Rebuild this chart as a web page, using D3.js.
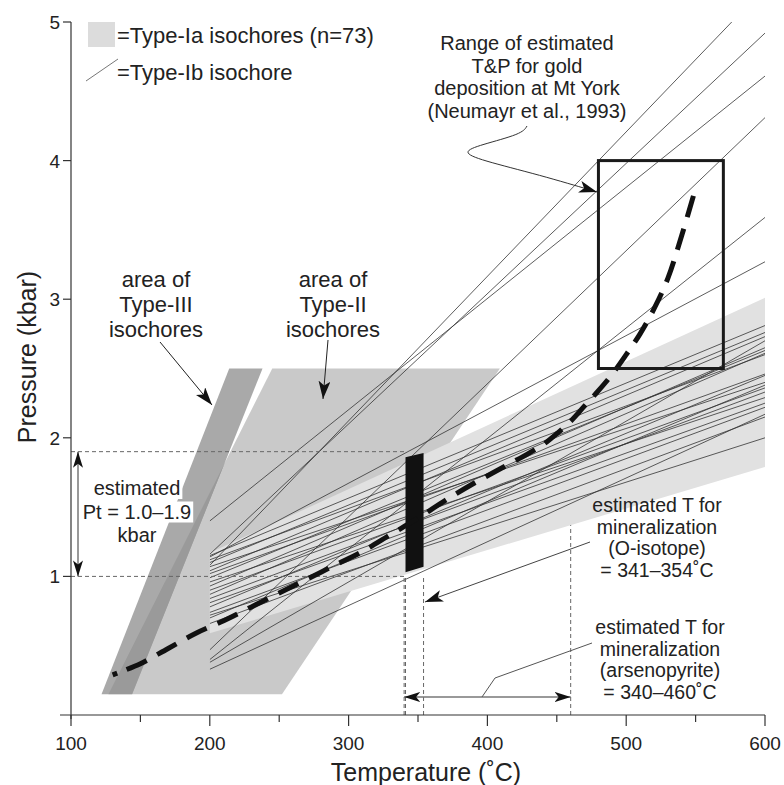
<!DOCTYPE html>
<html><head><meta charset="utf-8">
<script src="https://cdn.jsdelivr.net/npm/d3@7"></script>
<style>
body{margin:0;background:#fff}
svg{display:block;font-family:"Liberation Sans",Arial,sans-serif}
</style></head><body>
<svg id="chart" width="784" height="785"></svg>
<script>
// axis ticks
const xTicks = [100, 200, 300, 400, 500, 600];
const xMinorTicks = [150, 250, 350, 450, 550];
const yTicks = [1, 2, 3, 4, 5];

// Type-Ib isochores: pressure (kbar) at 200 °C and at 600 °C
const isoP200 = [1.08, 1.16, 1.40, 0.47, 0.40, 1.14,
  1.15, 1.12, 1.10, 1.07, 1.04, 1.02, 0.99, 0.96, 0.93, 0.90,
  0.87, 0.84, 0.81, 0.78, 0.74, 0.70, 0.66, 0.38, 0.33, 0.72];
const isoP600 = [5.25, 4.92, 4.61, 4.31, 3.59, 3.27,
  2.81, 2.60, 2.76, 2.40, 2.73, 2.46, 2.63, 2.29, 2.65, 2.36,
  2.61, 2.33, 2.25, 2.45, 2.22, 2.38, 2.15, 2.70, 2.17, 2.00];

// Type-Ia isochore band outline
const bandT = [200, 600, 600, 200];
const bandP = [0.59, 1.79, 3.01, 1.17];

// Type-II and Type-III isochore areas
const type2T = [127, 252, 409, 245];
const type2P = [0.15, 0.15, 2.5, 2.5];
const type3T = [122, 144, 238, 214];
const type3P = [0.15, 0.15, 2.5, 2.5];

// P–T path (thick dashed curve)
const pathT = [130, 150, 170, 190, 210, 230, 250, 270, 290, 310, 330, 350, 370, 390, 410, 430, 440, 450, 460, 470, 480, 490, 500, 510, 520, 530, 540, 550];
const pathP = [0.29, 0.37, 0.48, 0.59, 0.68, 0.78, 0.88, 0.98, 1.08, 1.18, 1.30, 1.42, 1.55, 1.67, 1.78, 1.89, 1.95, 2.03, 2.12, 2.23, 2.34, 2.46, 2.60, 2.75, 2.93, 3.15, 3.46, 3.80];

// gold deposition window (Neumayr et al., 1993)
const goldT = [480, 570];
const goldP = [2.5, 4.0];

// mineralization estimates
const oIsotopeT = [341, 354];
const oIsotopeBottom = [1.03, 1.07];
const oIsotopeTop = [1.86, 1.89];
const arsenopyriteT = [340, 460];
const ptRange = [1.0, 1.9];

const svg = d3.select("#chart");
const x = d3.scaleLinear().domain([100, 600]).range([71, 765]);
const y = d3.scaleLinear().domain([0, 5]).range([715, 22]);

const defs = svg.append("defs");
defs.append("clipPath").attr("id", "plotClip")
  .append("rect").attr("x", x(200)).attr("y", y(5))
  .attr("width", x(600) - x(200)).attr("height", y(0) - y(5));
const poly = (ts, ps) => ts.map((t, i) => [x(t), y(ps[i])]).join(" ");
defs.append("clipPath").attr("id", "type2Clip")
  .append("polygon").attr("points", poly(type2T, type2P));

function marker(id, len, half) {
  defs.append("marker").attr("id", id)
    .attr("viewBox", `0 ${-half} ${len} ${2 * half}`)
    .attr("refX", len).attr("refY", 0)
    .attr("markerWidth", len).attr("markerHeight", 2 * half)
    .attr("markerUnits", "userSpaceOnUse").attr("orient", "auto-start-reverse")
    .append("path").attr("d", `M0,${-half}L${len},0L0,${half}L${len * 0.25},0Z`).attr("fill", "#111");
}
marker("arrow", 18, 6);
marker("arrowS", 16, 5);

// isochore areas
svg.append("polygon").attr("points", poly(type2T, type2P)).attr("fill", "#c9c9c9");
svg.append("polygon").attr("points", poly(type3T, type3P)).attr("fill", "#a9a9a9");
svg.append("polygon").attr("points", poly(type3T, type3P)).attr("fill", "#9a9a9a")
  .attr("clip-path", "url(#type2Clip)");
svg.append("polygon").attr("points", poly(bandT, bandP)).attr("fill", "#e1e1e1");

// Type-Ib isochores
svg.append("g").attr("clip-path", "url(#plotClip)")
  .selectAll("line").data(isoP200).join("line")
  .attr("x1", x(200)).attr("y1", d => y(d))
  .attr("x2", x(600)).attr("y2", (d, i) => y(isoP600[i]))
  .attr("stroke", "#333").attr("stroke-width", 0.8);

// guide lines for the pressure and temperature estimates
const guide = svg.append("g").attr("stroke", "#666").attr("stroke-width", 1)
  .attr("stroke-dasharray", "4,3").attr("fill", "none");
ptRange.forEach(p => guide.append("line")
  .attr("x1", x(100)).attr("x2", x(oIsotopeT[0])).attr("y1", y(p)).attr("y2", y(p)));
[arsenopyriteT[0], oIsotopeT[0], oIsotopeT[1]].forEach(t => guide.append("line")
  .attr("x1", x(t)).attr("x2", x(t)).attr("y1", y(0)).attr("y2", y(ptRange[0])));
const bandBottomAt = t => bandP[0] + (bandP[1] - bandP[0]) * (t - bandT[0]) / (bandT[1] - bandT[0]);
guide.append("line").attr("x1", x(arsenopyriteT[1])).attr("x2", x(arsenopyriteT[1]))
  .attr("y1", y(0)).attr("y2", y(bandBottomAt(arsenopyriteT[1])));

// O-isotope temperature bar
svg.append("polygon").attr("fill", "#111").attr("points", [
  [x(oIsotopeT[0]), y(oIsotopeBottom[0])], [x(oIsotopeT[1]), y(oIsotopeBottom[1])],
  [x(oIsotopeT[1]), y(oIsotopeTop[1])], [x(oIsotopeT[0]), y(oIsotopeTop[0])]].join(" "));

// P–T path
const dash = ["5,10"].concat(d3.range(40).map(() => "22,12")).join(",");
svg.append("path")
  .attr("d", d3.line().x(d => x(d)).y((d, i) => y(pathP[i])).curve(d3.curveCatmullRom)(pathT))
  .attr("fill", "none").attr("stroke", "#111").attr("stroke-width", 5)
  .attr("stroke-dasharray", dash);

// gold deposition window
svg.append("rect").attr("x", x(goldT[0])).attr("y", y(goldP[1]))
  .attr("width", x(goldT[1]) - x(goldT[0])).attr("height", y(goldP[0]) - y(goldP[1]))
  .attr("fill", "none").attr("stroke", "#1a1a1a").attr("stroke-width", 3);

// axes
const axes = svg.append("g").attr("stroke", "#333").attr("stroke-width", 1.2);
axes.append("line").attr("x1", 60).attr("x2", x(600)).attr("y1", y(0)).attr("y2", y(0));
axes.append("line").attr("x1", x(100)).attr("x2", x(100)).attr("y1", y(5)).attr("y2", y(0) + 4);
xTicks.forEach(t => axes.append("line").attr("x1", x(t)).attr("x2", x(t)).attr("y1", y(0)).attr("y2", y(0) + 11));
xMinorTicks.forEach(t => axes.append("line").attr("x1", x(t)).attr("x2", x(t)).attr("y1", y(0)).attr("y2", y(0) + 7));
yTicks.forEach(p => axes.append("line").attr("x1", x(100) - 8).attr("x2", x(100)).attr("y1", y(p)).attr("y2", y(p)));

const txt = (g, s, px, py, size, anchor) => g.append("text").attr("x", px).attr("y", py)
  .attr("font-size", size).attr("text-anchor", anchor || "middle").attr("fill", "#222").text(s);
const labels = svg.append("g");
xTicks.forEach(t => txt(labels, t, x(t), y(0) + 35, 19));
yTicks.forEach(p => txt(labels, p, x(100) - 11, y(p) + 7, 19, "end"));
txt(labels, "Temperature (˚C)", 426, 781, 25);
labels.append("text").attr("transform", "translate(36,357) rotate(-90)")
  .attr("font-size", 25).attr("text-anchor", "middle").attr("fill", "#222").text("Pressure (kbar)");

// legend
svg.append("rect").attr("x", 88).attr("y", 22).attr("width", 27).attr("height", 25).attr("fill", "#dcdcdc");
txt(labels, "=Type-Ia isochores (n=73)", 117, 43, 22, "start");
svg.append("line").attr("x1", 86).attr("y1", 81).attr("x2", 118).attr("y2", 59).attr("stroke", "#777").attr("stroke-width", 1);
txt(labels, "=Type-Ib isochore", 117, 80, 22, "start");

// multi-line annotations
function block(lines, cx, baseY, step, size, halo) {
  const g = svg.append("g");
  lines.forEach((s, i) => {
    const t = txt(g, s, cx, baseY + i * step, size);
    if (halo) {
      const b = t.node().getBBox();
      g.insert("rect", "text").attr("x", b.x - 2).attr("y", b.y + 1)
        .attr("width", b.width + 4).attr("height", b.height - 1).attr("fill", "#fff");
    }
  });
}
block(["area of", "Type-III", "isochores"], 156, 287, 25, 22);
block(["area of", "Type-II", "isochores"], 333, 287, 25, 22);
block(["Range of estimated", "T&P for gold", "deposition at Mt York", "(Neumayr et al., 1993)"], 527, 50, 22.5, 20);
block(["estimated", "Pt = 1.0–1.9", "kbar"], 137, 495, 23.5, 20, true);
block(["estimated T for", "mineralization", "(O-isotope)", "= 341–354˚C"], 657, 512, 21.7, 19.5);
block(["estimated T for", "mineralization", "(arsenopyrite)", "= 340–460˚C"], 660, 634, 21.7, 19.5);

// arrows and leaders
const arrows = svg.append("g").attr("fill", "none");
arrows.append("line").attr("x1", 160).attr("y1", 342).attr("x2", 212).attr("y2", 405)
  .attr("stroke", "#222").attr("stroke-width", 1).attr("marker-end", "url(#arrow)");
arrows.append("line").attr("x1", 328).attr("y1", 340).attr("x2", 323).attr("y2", 399)
  .attr("stroke", "#222").attr("stroke-width", 1).attr("marker-end", "url(#arrow)");
arrows.append("path")
  .attr("d", d3.line().curve(d3.curveBasis)([[527, 126], [522, 134], [480, 145], [462, 152], [480, 160], [540, 175], [597, 192]]))
  .attr("stroke", "#333").attr("stroke-width", 1).attr("marker-end", "url(#arrow)");
arrows.append("line").attr("x1", 590).attr("y1", 542).attr("x2", 425).attr("y2", 602)
  .attr("stroke", "#444").attr("stroke-width", 1).attr("marker-end", "url(#arrow)");
const arrowY = y(0.13);
arrows.append("line").attr("x1", x(arsenopyriteT[0])).attr("x2", x(arsenopyriteT[1]))
  .attr("y1", arrowY).attr("y2", arrowY).attr("stroke", "#777").attr("stroke-width", 1.5)
  .attr("marker-start", "url(#arrowS)").attr("marker-end", "url(#arrowS)");
arrows.append("polyline").attr("points", [[482, arrowY], [495, 678], [592, 643]].join(" "))
  .attr("stroke", "#555").attr("stroke-width", 1);
arrows.append("line").attr("x1", 78).attr("x2", 78).attr("y1", y(ptRange[1])).attr("y2", y(ptRange[0]))
  .attr("stroke", "#777").attr("stroke-width", 1.5)
  .attr("marker-start", "url(#arrowS)").attr("marker-end", "url(#arrowS)");
</script>
</body></html>
